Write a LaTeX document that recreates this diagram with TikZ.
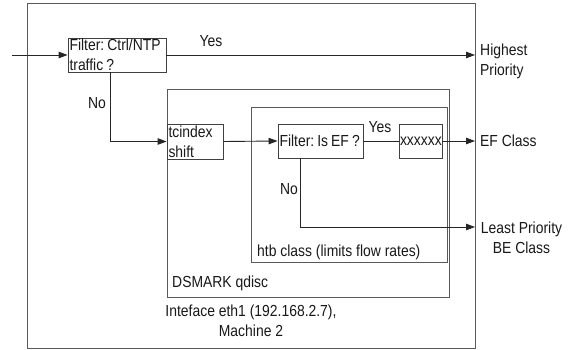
\documentclass[tikz,border=0pt]{standalone}
\usepackage{fontspec}
\setmainfont{Liberation Sans}[FakeStretch=0.87]
\usetikzlibrary{arrows.meta}
\frenchspacing
\newcommand\tightspaces{\spaceskip=0.19em\relax}
\begin{document}
\begin{tikzpicture}[x=1pt,y=-1pt,
  every node/.style={font=\fontsize{16}{20}\selectfont, text=black!90},
  frame/.style={draw=black!65, line width=0.9pt},
  box/.style={draw=black!75, line width=0.9pt, inner xsep=1.5pt, inner ysep=0pt, align=left,
    execute at begin node=\tightspaces},
  conn/.style={draw=black!85, line width=0.9pt},
  arr/.style={conn, -{Triangle[length=9pt,width=6.5pt]}},
  lbl/.style={inner sep=0pt}
]
\useasboundingbox (0,0) rectangle (571,350);
\fill[white] (0,0) rectangle (571,350);
% containers
\draw[frame] (27,3) rectangle (475,348);
\draw[frame] (167,89) rectangle (449,297);
\draw[frame] (251,107) rectangle (447,262);
% boxes
\node[box, text width=95pt, minimum height=34pt] (f1) at (117,55) {\mbox{Filter: Ctrl/NTP}\\\mbox{traffic ?}};
\node[box, text width=53pt, minimum height=35pt] (tc) at (195,141.5) {\mbox{tcindex}\\\mbox{shift}};
\node[box, text width=82pt, minimum height=34pt] (fe) at (320.5,141) {\mbox{Filter: Is EF ?}};
\node[box, text width=41pt, minimum height=34pt, inner xsep=1pt] (xx) at (420.5,141) {\mbox{xxxxxx}};
% free ends
\coordinate (in) at (12,55);
\coordinate (hp) at (475,55);
\coordinate (ef) at (475,141);
\coordinate (lp) at (475,227);
% connectors
\draw[arr] (in) -- (f1.west);
\draw[arr] (f1.east) -- (hp);
\draw[arr] ([xshift=-7pt]f1.south) |- (tc.west);
\draw[arr] (tc.east) -- (fe.west);
\draw[conn] (fe.east) -- (xx.west);
\draw[arr] (xx.east) -- (ef);
\draw[arr] ([xshift=-20.5pt]fe.south) |- (lp);
% labels
\node[lbl] (yes1) at (211,41) {Yes};
\node[lbl] (no1) at (97,103) {No};
\node[lbl] (yes2) at (380,127) {Yes};
\node[lbl] (no2) at (289,189) {No};
\node[lbl, anchor=west] (htb) at (257,252) {htb class (limits flow rates)};
\node[lbl, anchor=west] (dsm) at (172,283) {DSMARK qdisc};
\node[lbl, align=center] (ifc) at (251,321) {Inteface eth1 (192.168.2.7),\\Machine 2};
\node[lbl, align=left, anchor=west] (hpt) at (480,61) {Highest\\Priority};
\node[lbl, anchor=west] (eft) at (480,141) {EF Class};
\node[lbl, align=center] (lpt) at (521.5,238) {Least Priority\\BE Class};
\end{tikzpicture}
\end{document}
